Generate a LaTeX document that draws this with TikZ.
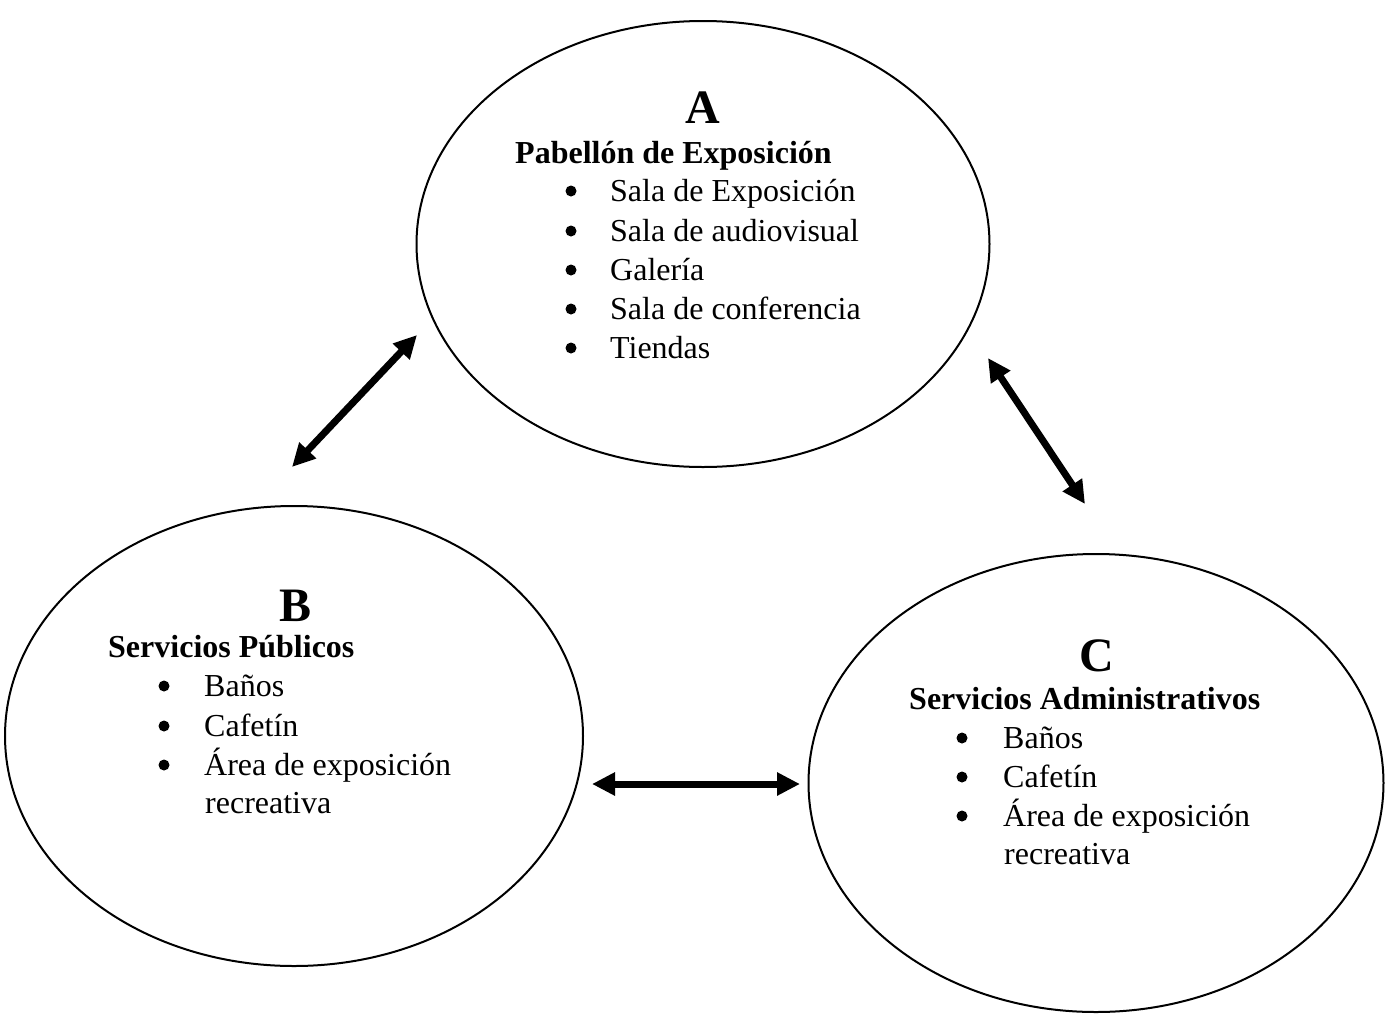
\documentclass[tikz,border=0pt]{standalone}
\usepackage{fontspec}
\setmainfont{Liberation Serif}
\usetikzlibrary{shapes.geometric,arrows.meta}
\tikzset{
  zone/.style={ellipse, draw, line width=2pt, inner sep=0pt},
  txt/.style={inner sep=0pt, anchor=base west, font=\fontsize{32}{39}\selectfont},
  head/.style={inner sep=0pt, anchor=base west, font=\fontsize{32}{39}\selectfont\bfseries},
  letter/.style={inner sep=0pt, anchor=base, font=\fontsize{48}{56}\selectfont\bfseries},
  bul/.style={circle, fill, inner sep=0pt, minimum size=11pt, yshift=10pt},
  link/.style={line width=7pt, {Triangle[length=23pt,width=22pt]}-{Triangle[length=23pt,width=22pt]}}
}
\begin{document}
\begin{tikzpicture}[x=1pt,y=-1pt]
\useasboundingbox (0,0) rectangle (1393,1015);
% ellipses
\node[zone, minimum width=573pt, minimum height=446pt] (A) at (703,244) {};
\node[zone, minimum width=578pt, minimum height=460pt] (B) at (294,736) {};
\node[zone, minimum width=575pt, minimum height=458pt] (C) at (1096,783) {};
% A text
\node[letter] (Al) at (703,123) {A};
\node[head] (Ah) at (515,163) {Pabellón de Exposición};
\node[bul] (Ab1) at (571,201) {};
\node[txt] (Ai1) at (610,201) {Sala de Exposición};
\node[bul] (Ab2) at (571,241) {};
\node[txt] (Ai2) at (610,241) {Sala de audiovisual};
\node[bul] (Ab3) at (571,280) {};
\node[txt] (Ai3) at (610,280) {Galería};
\node[bul] (Ab4) at (571,319) {};
\node[txt] (Ai4) at (610,319) {Sala de conferencia};
\node[bul] (Ab5) at (571,358) {};
\node[txt] (Ai5) at (610,358) {Tiendas};
% B text
\node[letter] (Bl) at (296,621) {B};
\node[head] (Bh) at (108,657) {Servicios Públicos};
\node[bul] (Bb1) at (164,696) {};
\node[txt] (Bi1) at (204,696) {Baños};
\node[bul] (Bb2) at (164,736) {};
\node[txt] (Bi2) at (204,736) {Cafetín};
\node[bul] (Bb3) at (164,775) {};
\node[txt] (Bi3) at (204,775) {Área de exposición};
\node[txt] (Bi4) at (205,813) {recreativa};
% C text
\node[letter] (Cl) at (1097,671) {C};
\node[head] (Ch) at (909,709) {Servicios Administrativos};
\node[bul] (Cb1) at (962,748) {};
\node[txt] (Ci1) at (1003,748) {Baños};
\node[bul] (Cb2) at (962,787) {};
\node[txt] (Ci2) at (1003,787) {Cafetín};
\node[bul] (Cb3) at (962,826) {};
\node[txt] (Ci3) at (1003,826) {Área de exposición};
\node[txt] (Ci4) at (1004,864) {recreativa};
% arrows
\coordinate (ab1) at (292,467);
\coordinate (ab2) at (417,335);
\coordinate (ac1) at (988,358);
\coordinate (ac2) at (1085,504);
\coordinate (bc1) at (592,784);
\coordinate (bc2) at (800,784);
\draw[link] (ab1) -- (ab2);
\draw[link] (ac1) -- (ac2);
\draw[link] (bc1) -- (bc2);
\end{tikzpicture}
\end{document}
